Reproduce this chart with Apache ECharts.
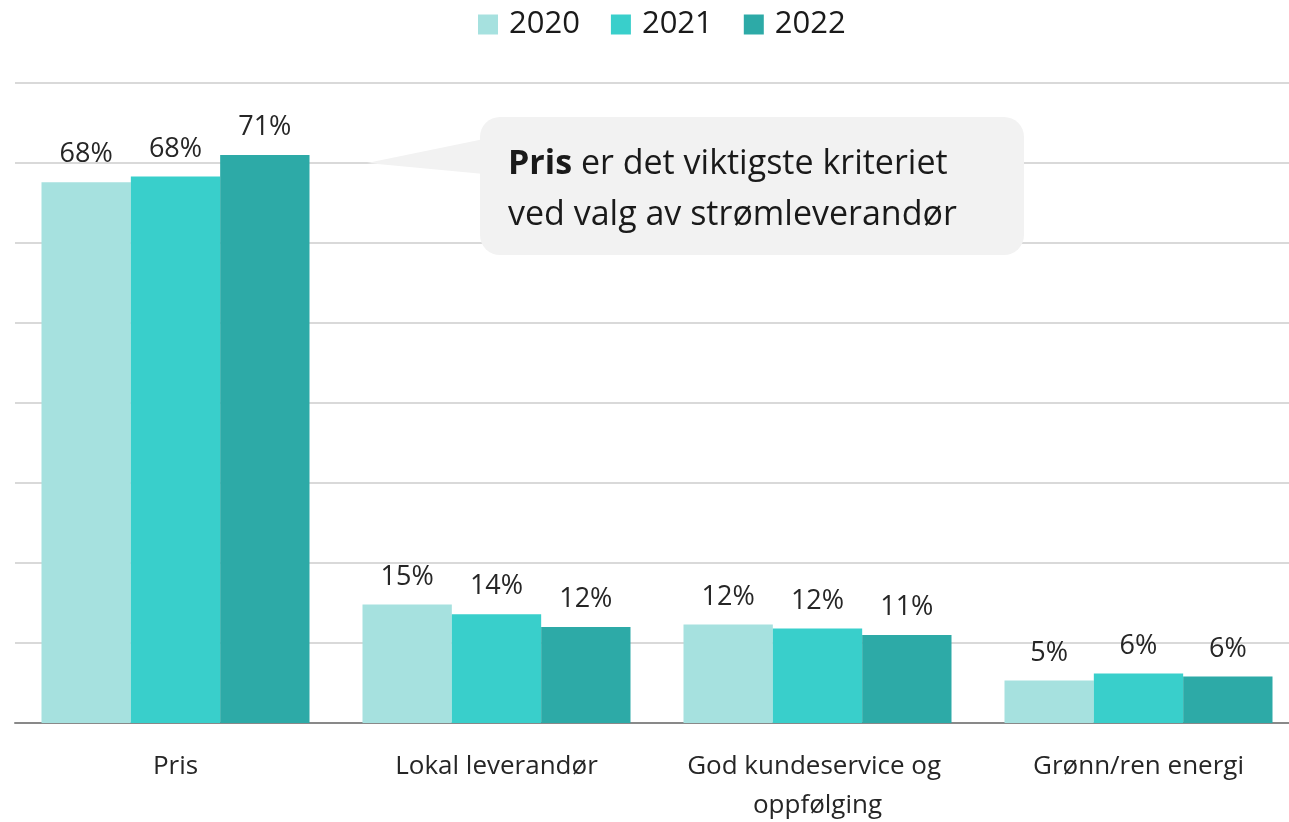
<!DOCTYPE html>
<html>
<head>
<meta charset="utf-8">
<script src="https://cdn.jsdelivr.net/npm/echarts@6/dist/echarts.min.js"></script>
<style>
html,body{margin:0;padding:0;background:#fff;}
#chart{width:1289px;height:822px;}
</style>
</head>
<body>
<div id="chart"></div>
<script>
const categories = ['Pris', 'Lokal leverandør', 'God kundeservice og oppfølging', 'Grønn/ren energi'];
const seriesNames = ['2020', '2021', '2022'];
const values2020 = [67.6, 14.8, 12.3, 5.3];
const values2021 = [68.3, 13.6, 11.8, 6.2];
const values2022 = [71.0, 12.0, 11.0, 5.8];
const colors = ['#a6e1df', '#39cfcb', '#2daaa7'];
const calloutBold = 'Pris';
const calloutRest = ' er det viktigste kriteriet';
const calloutLine2 = 'ved valg av strømleverandør';

const FONT = '"Open Sans", "Noto Sans", sans-serif';
const chart = echarts.init(document.getElementById('chart'), null, {renderer: 'canvas'});

const allValues = [values2020, values2021, values2022];
const series = seriesNames.map((name, i) => ({
  name: name,
  type: 'bar',
  data: allValues[i],
  barGap: '0%',
  barCategoryGap: 53,
  itemStyle: {color: colors[i]},
  label: {
    show: true,
    position: 'top',
    distance: 14,
    fontFamily: FONT,
    fontSize: 27,
    color: '#262626',
    formatter: p => Math.round(p.value) + '%'
  }
}));

chart.setOption({
  animation: false,
  textStyle: {fontFamily: FONT},
  legend: {
    data: seriesNames,
    top: 9,
    left: 478,
    padding: 0,
    itemWidth: 20,
    itemHeight: 20,
    itemGap: 31,
    icon: 'rect',
    textStyle: {fontFamily: FONT, fontSize: 31, color: '#1a1a1a', padding: [0, 0, 0, 6]}
  },
  grid: {left: 15, right: -10, top: 83, bottom: 99, containLabel: false, outerBoundsMode: 'none'},
  xAxis: {
    type: 'category',
    data: categories,
    axisLine: {lineStyle: {color: '#898989', width: 2}},
    axisTick: {show: false},
    axisLabel: {
      fontFamily: FONT,
      fontSize: 26,
      color: '#262626',
      margin: 24,
      lineHeight: 39,
      width: 290,
      overflow: 'break',
      interval: 0
    }
  },
  yAxis: {
    type: 'value',
    min: 0,
    max: 80,
    interval: 10,
    axisLabel: {show: false},
    axisLine: {show: false},
    axisTick: {show: false},
    splitLine: {lineStyle: {color: '#d9d9d9', width: 2}}
  },
  series: series,
  graphic: [{
    type: 'group',
    z: 100,
    children: [
      {
        type: 'polygon',
        z: 100,
        shape: {points: [[367, 163], [484, 139], [484, 174]]},
        style: {fill: '#f2f2f2'}
      },
      {
        type: 'rect',
        z: 100,
        shape: {x: 480, y: 117, width: 544, height: 138, r: 20},
        style: {fill: '#f2f2f2'}
      },
      {
        type: 'text',
        z: 101,
        x: 508,
        y: 190,
        style: {
          text: '{b|' + calloutBold + '}' + calloutRest + '\n' + calloutLine2,
          fontFamily: FONT,
          fontSize: 34,
          lineHeight: 51,
          fill: '#1a1a1a',
          verticalAlign: 'middle',
          align: 'left',
          rich: {
            b: {fontFamily: FONT, fontSize: 34, fontWeight: 'bold', lineHeight: 51, fill: '#1a1a1a'}
          }
        }
      }
    ]
  }]
});
</script>
</body>
</html>
